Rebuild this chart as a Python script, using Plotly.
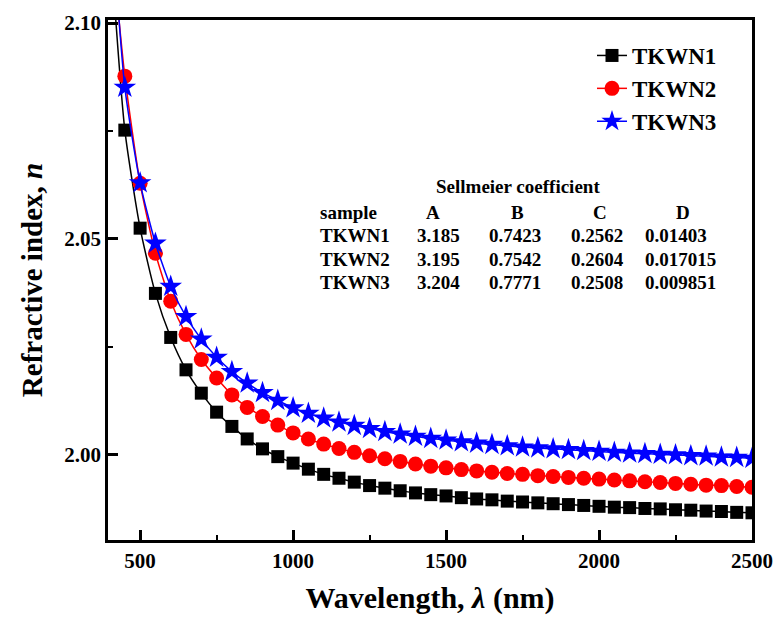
import plotly.graph_objects as go

# ---- data ----
wavelength_nm = [400, 450, 500, 550, 600, 650, 700, 750, 800, 850, 900, 950, 1000,
                 1050, 1100, 1150, 1200, 1250, 1300, 1350, 1400, 1450, 1500, 1550,
                 1600, 1650, 1700, 1750, 1800, 1850, 1900, 1950, 2000, 2050, 2100,
                 2150, 2200, 2250, 2300, 2350, 2400, 2450, 2500]

n_tkwn1 = [2.1211, 2.0752, 2.0525, 2.0374, 2.0272, 2.0197, 2.0143, 2.0099, 2.0066,
           2.0037, 2.0014, 1.9996, 1.9981, 1.9967, 1.9955, 1.9946, 1.9937, 1.9929,
           1.9923, 1.9917, 1.9912, 1.9908, 1.9905, 1.9901, 1.9898, 1.9896, 1.9893,
           1.9891, 1.9889, 1.9887, 1.9885, 1.9883, 1.9881, 1.9879, 1.9878, 1.9876,
           1.9875, 1.9873, 1.9872, 1.9870, 1.9869, 1.9867, 1.9866]

n_tkwn2 = [2.1238, 2.0877, 2.0629, 2.0467, 2.0356, 2.0279, 2.0221, 2.0178, 2.0139,
           2.0110, 2.0089, 2.0069, 2.0051, 2.0037, 2.0025, 2.0015, 2.0006, 1.9998,
           1.9991, 1.9985, 1.9979, 1.9974, 1.9970, 1.9966, 1.9963, 1.9960, 1.9957,
           1.9955, 1.9952, 1.9950, 1.9948, 1.9946, 1.9944, 1.9942, 1.9940, 1.9938,
           1.9936, 1.9934, 1.9932, 1.9930, 1.9929, 1.9927, 1.9925]

n_tkwn3 = [2.1320, 2.0851, 2.0630, 2.0490, 2.0390, 2.0320, 2.0268, 2.0226, 2.0193,
           2.0166, 2.0144, 2.0126, 2.0109, 2.0096, 2.0085, 2.0076, 2.0068, 2.0061,
           2.0054, 2.0048, 2.0043, 2.0038, 2.0034, 2.0030, 2.0027, 2.0024, 2.0021,
           2.0018, 2.0016, 2.0014, 2.0012, 2.0010, 2.0008, 2.0006, 2.0004, 2.0003,
           2.0001, 2.0000, 1.9998, 1.9997, 1.9995, 1.9994, 1.9992]

series_names = ["TKWN1", "TKWN2", "TKWN3"]

table_title = "Sellmeier coefficient"
table_header = ["sample", "A", "B", "C", "D"]
coef_A = ["3.185", "3.195", "3.204"]
coef_B = ["0.7423", "0.7542", "0.7771"]
coef_C = ["0.2562", "0.2604", "0.2508"]
coef_D = ["0.01403", "0.017015", "0.009851"]

# ---- figure ----
W, H = 778, 629
ML, MR, MT, MB = 108, 26, 20, 89
PW, PH = W - ML - MR, H - MT - MB
FONT = "Liberation Serif"


def px(x):
    return (x - ML) / PW


def py(y):
    return (H - MB - y) / PH


fig = go.Figure()
styles = [
    dict(color="black", symbol="square", size=13),
    dict(color="red", symbol="circle", size=15),
    dict(color="blue", symbol="star", size=17),
]
for name, vals, st in zip(series_names, [n_tkwn1, n_tkwn2, n_tkwn3], styles):
    fig.add_trace(go.Scatter(
        x=wavelength_nm, y=vals, mode="lines+markers", name="<b>" + name + "</b>",
        line=dict(color=st["color"], width=1.5, shape="spline", smoothing=0.6),
        marker=dict(color=st["color"], symbol=st["symbol"], size=st["size"],
                    line=dict(width=0)),
    ))

axis_common = dict(
    showline=True, linecolor="black", linewidth=2.5, mirror=True,
    ticks="inside", ticklen=10, tickwidth=2.5, tickcolor="black",
    showgrid=False, zeroline=False,
    tickfont=dict(family=FONT, size=21, color="black", weight="bold"),
)

fig.update_xaxes(
    range=[395, 2500], tick0=500, dtick=500,
    minor=dict(ticks="inside", ticklen=5, tickwidth=2, dtick=250, tick0=500, tickcolor="black"),
    title=dict(text="<b>Wavelength, <i>λ</i> (nm)</b>", standoff=16,
               font=dict(family=FONT, size=30, color="black")),
    **axis_common,
)
fig.update_yaxes(
    range=[1.9803, 2.1007], tick0=2.0, dtick=0.05, tickformat=".2f",
    minor=dict(ticks="inside", ticklen=5, tickwidth=2, dtick=0.025, tick0=2.0, tickcolor="black"),
    title=dict(text="<b>Refractive index, <i>n</i></b>", standoff=14,
               font=dict(family=FONT, size=29, color="black")),
    **axis_common,
)

# table of Sellmeier coefficients
ann = []
tf = dict(family=FONT, size=19, color="black")
ann.append(dict(x=px(518), y=py(187), text="<b>" + table_title + "</b>",
                xanchor="center", yanchor="middle"))
col_x = [433, 517, 600, 683]
ann.append(dict(x=px(318), y=py(212), text="<b>" + table_header[0] + "</b>",
                xanchor="left", yanchor="middle"))
for cx, h in zip(col_x, table_header[1:]):
    ann.append(dict(x=px(cx), y=py(212), text="<b>" + h + "</b>",
                    xanchor="center", yanchor="middle"))
row_y = [236, 259, 282]
for i, name in enumerate(series_names):
    ry = row_y[i]
    ann.append(dict(x=px(318), y=py(ry), text="<b>" + name + "</b>",
                    xanchor="left", yanchor="middle"))
    ann.append(dict(x=px(438), y=py(ry), text="<b>" + coef_A[i] + "</b>",
                    xanchor="center", yanchor="middle"))
    ann.append(dict(x=px(515), y=py(ry), text="<b>" + coef_B[i] + "</b>",
                    xanchor="center", yanchor="middle"))
    ann.append(dict(x=px(597), y=py(ry), text="<b>" + coef_C[i] + "</b>",
                    xanchor="center", yanchor="middle"))
    ann.append(dict(x=px(643), y=py(ry), text="<b>" + coef_D[i] + "</b>",
                    xanchor="left", yanchor="middle"))
for a in ann:
    a.update(xref="paper", yref="paper", showarrow=False, font=tf)

fig.update_layout(
    width=W, height=H,
    margin=dict(l=ML, r=MR, t=MT, b=MB, autoexpand=False),
    paper_bgcolor="white", plot_bgcolor="white",
    annotations=ann,
    showlegend=True,
    legend=dict(x=px(592), y=py(34), xanchor="left", yanchor="top",
                bgcolor="rgba(0,0,0,0)", borderwidth=0, tracegroupgap=0,
                font=dict(family=FONT, size=23, color="black")),
)

fig.write_html("out.html")
